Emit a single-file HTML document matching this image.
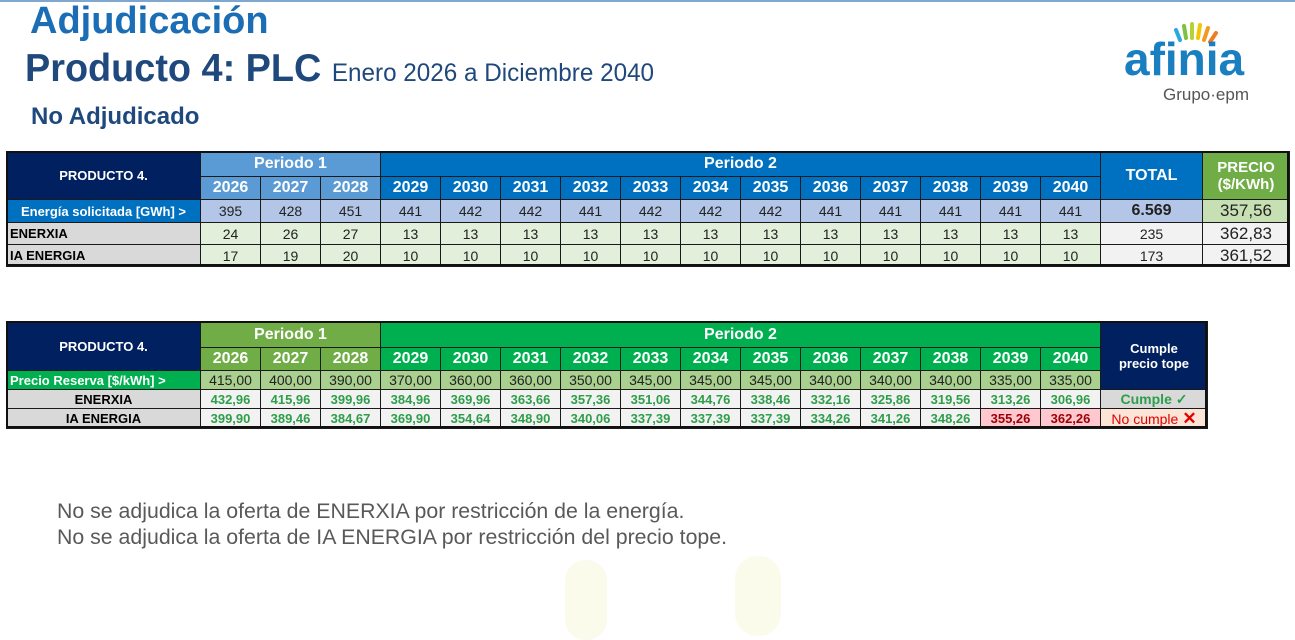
<!DOCTYPE html>
<html><head><meta charset="utf-8">
<style>
html,body{margin:0;padding:0;}
body{width:1295px;height:593px;position:relative;overflow:hidden;background:#fff;font-family:"Liberation Sans",sans-serif;}
.c{position:absolute;box-sizing:border-box;border:1px solid #1a1a1a;display:flex;align-items:center;justify-content:center;white-space:nowrap;overflow:hidden;}
.t{position:absolute;white-space:nowrap;}
</style></head>
<body>
<div style="position:absolute;left:0;top:0;width:1295px;height:2px;background:#7fa7cf"></div>
<div class="t" style="left:30px;top:0px;font-size:38px;font-weight:bold;color:#1b6db5;">Adjudicación</div>
<div class="t" style="left:25px;top:47px;font-size:39px;font-weight:bold;color:#1f497d;transform:scaleX(0.97);transform-origin:left;">Producto 4: PLC <span style="font-size:25px;font-weight:normal;">Enero 2026 a Diciembre 2040</span></div>
<div class="t" style="left:31px;top:103px;font-size:24px;font-weight:bold;color:#1f497d;">No Adjudicado</div>

<div style="position:absolute;left:1120px;top:18px;width:160px;height:90px;">
<svg width="140" height="40" style="position:absolute;left:0;top:0">
<g stroke-linecap="round" stroke-width="4">
<line x1="60" y1="22" x2="56" y2="12" stroke="#2aa9e0"/>
<line x1="66" y1="20" x2="64" y2="8" stroke="#7cc242"/>
<line x1="72" y1="20" x2="72" y2="6" stroke="#b5d334"/>
<line x1="78" y1="20" x2="80" y2="7" stroke="#f7c400"/>
<line x1="84" y1="22" x2="88" y2="10" stroke="#f29a1f"/>
<line x1="90" y1="24" x2="96" y2="15" stroke="#f07c22"/>
</g></svg>
<div class="t" style="left:4px;top:14px;font-size:46px;font-weight:bold;color:#1a7fc1;">afinia</div>
<div class="t" style="left:43px;top:67px;font-size:17px;color:#555;">Grupo·epm</div>
</div>

<div id="t1"></div><div id="t2"></div>

<div class="t" style="left:57px;top:499px;font-size:21.3px;color:#595959;">No se adjudica la oferta de ENERXIA por restricción de la energía.</div>
<div class="t" style="left:57px;top:525px;font-size:21.3px;color:#595959;">No se adjudica la oferta de IA ENERGIA por restricción del precio tope.</div>
<div style="position:absolute;left:565px;top:560px;width:42px;height:80px;border-radius:20px;background:#fbfbec"></div>
<div style="position:absolute;left:735px;top:556px;width:46px;height:80px;border-radius:22px;background:#fbfbec"></div>

<script>
const years=[2026,2027,2028,2029,2030,2031,2032,2033,2034,2035,2036,2037,2038,2039,2040];
const energia=[395,428,451,441,442,442,441,442,442,442,441,441,441,441,441];
const enerxiaE=[24,26,27,13,13,13,13,13,13,13,13,13,13,13,13];
const iaE=[17,19,20,10,10,10,10,10,10,10,10,10,10,10,10];
const totals=["6.569","235","173"];
const precios=["357,56","362,83","361,52"];
const reserva=["415,00","400,00","390,00","370,00","360,00","360,00","350,00","345,00","345,00","345,00","340,00","340,00","340,00","335,00","335,00"];
const enerxiaP=["432,96","415,96","399,96","384,96","369,96","363,66","357,36","351,06","344,76","338,46","332,16","325,86","319,56","313,26","306,96"];
const iaP=["399,90","389,46","384,67","369,90","354,64","348,90","340,06","337,39","337,39","337,39","334,26","341,26","348,26","355,26","362,26"];
const iaFail=[false,false,false,false,false,false,false,false,false,false,false,false,false,true,true];

function cell(par,x,y,w,h,txt,bg,col,bold,fs,name,jus){
  const d=document.createElement('div');
  d.className='c';
  d.style.cssText=`left:${x}px;top:${y}px;width:${w+1}px;height:${h+1}px;background:${bg};color:${col};font-weight:${bold?'bold':'normal'};font-size:${fs}px;`+(jus?`justify-content:${jus};padding-left:3px;`:'');
  d.innerHTML=txt;
  
  
  par.appendChild(d);
  return d;
}
const B=document.body;
// Table 1
(function(){
  const X0=6,LW=194,YW=60,ys=[151,176,199,222,244,266];
  const h=i=>ys[i+1]-ys[i];
  const xs=i=>X0+LW+i*YW;
  cell(B,X0,ys[0],LW,ys[2]-ys[0],'PRODUCTO 4.','#002060','#fff',1,13,'t1-header-label');
  cell(B,xs(0),ys[0],YW*3,h(0),'Periodo 1','#5b9bd5','#fff',1,16,'t1-periodo-1');
  cell(B,xs(3),ys[0],YW*12,h(0),'Periodo 2','#0070c0','#fff',1,16,'t1-periodo-2');
  years.forEach((y,i)=>cell(B,xs(i),ys[1],YW,h(1),y,i<3?'#5b9bd5':'#0070c0','#fff',1,16,'t1-year-'+y));
  const xt=xs(15);
  cell(B,xt,ys[0],102,ys[2]-ys[0],'TOTAL','#0070c0','#fff',1,16,'t1-total-header');
  cell(B,xt+102,ys[0],87,ys[2]-ys[0],'PRECIO<br>($/KWh)','#70ad47','#fff',1,15,'t1-precio-header').style.textAlign='center';
  cell(B,X0,ys[2],LW,h(2),'Energía solicitada [GWh] &gt;','#0070c0','#fff',1,13,'t1-energia-label');
  cell(B,X0,ys[3],LW,h(3),'ENERXIA','#d9d9d9','#000',1,13,'t1-enerxia-label','flex-start');
  cell(B,X0,ys[4],LW,h(4),'IA ENERGIA','#d9d9d9','#000',1,13,'t1-ia-label','flex-start');
  energia.forEach((v,i)=>cell(B,xs(i),ys[2],YW,h(2),v,'#b4c6e7','#222',0,14,'t1-energia-'+years[i]));
  enerxiaE.forEach((v,i)=>cell(B,xs(i),ys[3],YW,h(3),v,'#e2efda','#222',0,14,'t1-enerxia-'+years[i]));
  iaE.forEach((v,i)=>cell(B,xs(i),ys[4],YW,h(4),v,'#e2efda','#222',0,14,'t1-ia-'+years[i]));
  totals.forEach((v,r)=>cell(B,xt,ys[2+r],102,h(2+r),v,r==0?'#b4c6e7':'#f2f2f2','#222',r==0,r==0?16:14,'t1-total-'+r));
  precios.forEach((v,r)=>cell(B,xt+102,ys[2+r],87,h(2+r),v,r==0?'#c6e0b4':'#f2f2f2','#222',0,17,'t1-precio-'+r));
  const o=document.createElement('div');o.style.cssText=`position:absolute;left:${X0}px;top:${ys[0]}px;width:${1289-X0}px;height:${ys[5]-ys[0]}px;border:2px solid #111;box-sizing:border-box;`;
  
  
  B.appendChild(o);
})();
// Table 2
(function(){
  const X0=6,LW=194,YW=60,ys=[321,347,370,389,408,428];
  const h=i=>ys[i+1]-ys[i];
  const xs=i=>X0+LW+i*YW;
  cell(B,X0,ys[0],LW,ys[2]-ys[0],'PRODUCTO 4.','#002060','#fff',1,13,'t2-header-label');
  cell(B,xs(0),ys[0],YW*3,h(0),'Periodo 1','#70ad47','#fff',1,16,'t2-periodo-1');
  cell(B,xs(3),ys[0],YW*12,h(0),'Periodo 2','#00b050','#fff',1,16,'t2-periodo-2');
  years.forEach((y,i)=>cell(B,xs(i),ys[1],YW,h(1),y,i<3?'#70ad47':'#00b050','#fff',1,16,'t2-year-'+y));
  const xc=xs(15);
  cell(B,xc,ys[0],107,ys[3]-ys[0],'Cumple<br>precio tope','#002060','#fff',1,13,'t2-cumple-header').style.textAlign='center';
  cell(B,X0,ys[2],LW,h(2),'Precio Reserva [$/kWh] &gt;','#00b050','#fff',1,13,'t2-reserva-label','flex-start');
  cell(B,X0,ys[3],LW,h(3),'ENERXIA','#d9d9d9','#000',1,13,'t2-enerxia-label');
  cell(B,X0,ys[4],LW,h(4),'IA ENERGIA','#d9d9d9','#000',1,13,'t2-ia-label');
  reserva.forEach((v,i)=>cell(B,xs(i),ys[2],YW,h(2),v,'#a9d08e','#222',0,14,'t2-reserva-'+years[i]));
  enerxiaP.forEach((v,i)=>cell(B,xs(i),ys[3],YW,h(3),v,'#f2f2f2','#2e9e4a',1,13,'t2-enerxia-'+years[i]));
  iaP.forEach((v,i)=>cell(B,xs(i),ys[4],YW,h(4),v,iaFail[i]?'#ffc7ce':'#f2f2f2',iaFail[i]?'#9c0006':'#2e9e4a',1,13,'t2-ia-'+years[i]));
  cell(B,xc,ys[3],107,h(3),'Cumple ✓','#d9d9d9','#2e9e4a',1,14,'t2-enerxia-cumple');
  cell(B,xc,ys[4],107,h(4),'No cumple <span style="font-size:17px;margin-left:4px;font-weight:bold">✕</span>','#fce4d6','#e00000',0,14,'t2-ia-cumple');
  const o=document.createElement('div');o.style.cssText=`position:absolute;left:${X0}px;top:${ys[0]}px;width:${1207-X0}px;height:${ys[5]-ys[0]}px;border:2px solid #111;box-sizing:border-box;`;
  
  
  B.appendChild(o);
})();
</script>
</body></html>
